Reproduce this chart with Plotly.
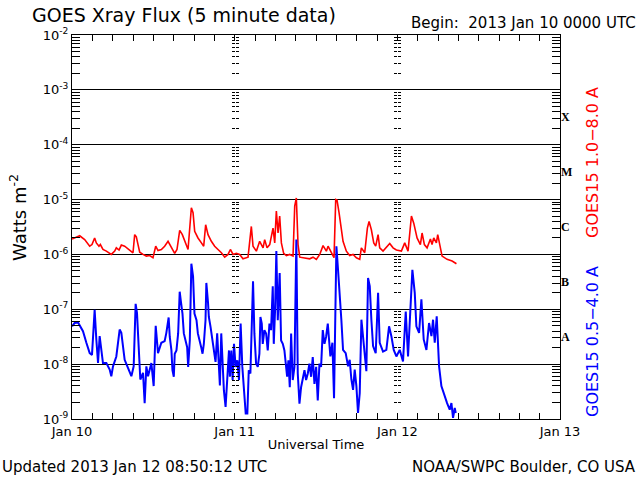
import numpy as np
import pandas as pd
import plotly.graph_objects as go

# ---------------- data (hours since 2013-01-10 00:00 UTC, log10 of W m^-2) -------------
long_hours = [0.00, 0.89, 1.13, 1.87, 2.61, 2.95, 3.34, 3.59, 3.98, 4.18, 4.57, 5.07, 5.80, 6.30,
              6.54, 6.94, 7.28, 7.77, 8.26, 8.66, 9.00, 9.25, 9.49, 9.74, 9.99, 10.48, 10.97, 11.46,
              11.95, 12.35, 12.69, 13.18, 13.67, 14.17, 14.66, 15.15, 15.49, 15.89, 16.28, 16.77,
              17.12, 17.61, 17.86, 18.10, 18.59, 19.09, 19.43, 19.72, 20.07, 20.56, 21.05, 21.54,
              22.04, 22.53, 23.02, 23.37, 23.76, 24.25, 24.74, 25.23, 25.97, 26.46, 26.71, 27.20,
              27.69, 28.19, 28.43, 28.78, 29.17, 29.66, 29.91, 30.15, 30.40, 30.64, 30.89, 31.23,
              31.63, 32.12, 32.61, 32.86, 33.10, 33.35, 33.60,
              35.07, 35.56, 36.05, 36.55, 37.04, 37.53, 37.78, 38.27, 38.66, 38.91, 39.10, 39.40,
              39.74, 39.99, 40.48, 40.97, 41.47, 41.96, 42.45, 42.69, 43.19, 43.58, 43.83, 44.17,
              44.52, 44.81, 45.16, 45.40, 45.89, 46.38, 46.88, 47.37, 47.86, 48.60, 49.09, 49.58,
              50.08, 50.42, 50.91, 51.40, 51.65, 51.99, 52.39, 52.88, 53.12, 53.37, 53.76, 53.96,
              54.26, 54.60, 55.34, 56.08, 56.72]
long_log10 = [-5.72, -5.67, -5.66, -5.73, -5.85, -5.82, -5.70, -5.79, -5.85, -5.82, -5.91, -5.94, -6.00, -5.94,
              -5.88, -5.92, -5.83, -5.85, -5.90, -5.93, -5.97, -5.64, -5.68, -5.82, -5.96, -6.00, -6.03, -6.02,
              -6.06, -5.85, -5.93, -5.91, -5.85, -5.76, -5.88, -5.98, -5.91, -5.56, -5.64, -5.82,
              -5.91, -5.15, -5.24, -5.58, -5.70, -5.79, -5.85, -5.46, -5.64, -5.76, -5.85, -5.91,
              -5.97, -6.05, -6.00, -5.91, -6.00, -5.98, -6.00, -6.08, -6.05, -5.49, -5.85, -5.94,
              -5.76, -5.88, -5.73, -5.88, -5.82, -5.52, -5.79, -5.21, -5.61, -5.30, -5.79, -5.98,
              -6.02, -6.00, -6.03, -5.12, -4.97, -5.82, -6.05,
              -6.08, -6.05, -6.09, -6.00, -5.84, -5.94, -5.85, -5.97, -6.06, -5.00, -5.01, -5.24,
              -5.61, -5.76, -5.94, -6.02, -6.00, -6.06, -6.09, -5.88, -5.97, -5.52, -5.40, -5.55,
              -5.79, -5.85, -5.64, -5.88, -5.94, -5.88, -5.80, -5.88, -5.92, -5.94, -5.79, -5.94,
              -5.30, -5.43, -5.70, -5.82, -5.61, -5.82, -5.88, -5.72, -5.82, -5.70, -5.79, -5.64,
              -5.85, -6.03, -6.09, -6.12, -6.17]

short_hours = [0.00, 0.39, 0.89, 1.13, 1.62, 2.12, 2.61, 2.95, 3.34, 3.59, 3.84, 4.08, 4.33, 4.57, 5.07,
               5.56, 5.80, 6.05, 6.54, 7.03, 7.28, 7.53, 7.77, 8.26, 8.76, 9.10, 9.39, 9.59, 9.89,
               10.08, 10.48, 10.72, 10.97, 11.22, 11.71, 12.05, 12.35, 12.69, 13.18, 13.67, 13.92,
               14.26, 14.42, 14.67, 14.82, 15.02, 15.16, 15.41, 15.66, 15.89, 16.05, 16.30, 16.50,
               16.79, 16.99, 17.14, 17.38, 17.61, 17.86, 18.07, 18.37, 18.57, 18.86, 19.06, 19.26,
               19.45, 19.70, 19.82, 20.07, 20.19, 20.44, 20.68, 20.93, 21.18, 21.42, 21.67, 21.82,
               22.02, 22.22, 22.41, 22.66, 22.91, 23.16, 23.30, 23.50, 23.70, 23.90, 24.14, 24.39,
               24.64, 24.88, 25.13, 25.38, 25.63, 25.87, 26.08, 26.32, 26.52, 26.71, 26.91, 27.16,
               27.41, 27.65, 27.80, 28.00, 28.14, 28.39, 28.64, 28.88, 29.13, 29.37, 29.62, 29.77,
               29.96, 30.15, 30.36, 30.64, 30.85, 31.10, 31.34, 31.59, 31.74, 31.93, 32.13, 32.33,
               32.57, 32.82, 32.97, 33.10, 33.31, 33.56, 33.80, 34.05, 34.30, 34.54, 34.79, 35.03,
               35.28, 35.52, 35.77, 36.02, 36.26, 36.51, 36.75, 37.00, 37.25, 37.49, 37.74,
               38.12, 38.42, 38.66, 38.86, 39.01, 39.25, 39.50, 39.74, 39.99,
               40.38, 40.73, 40.97, 41.22, 41.47, 41.71, 41.96, 42.20, 42.45, 42.70, 42.94, 43.19,
               43.43, 43.68, 43.93, 44.17, 44.42, 44.81, 45.16, 45.40, 45.89, 46.38, 46.78, 47.12,
               47.47, 47.86, 48.35, 48.84, 49.24, 49.58, 49.93, 50.22, 50.57, 50.81, 51.21, 51.55,
               51.89, 52.29, 52.68, 53.03, 53.27, 53.52, 53.81, 54.16, 54.50, 54.99, 55.34, 55.73,
               55.98, 56.22, 56.47, 56.62]
short_log10 = [-7.31, -7.25, -7.24, -7.29, -7.40, -7.61, -7.80, -7.83, -7.01, -7.55, -7.98, -7.49, -7.74, -7.98, -7.98,
               -8.10, -8.22, -8.04, -7.86, -7.37, -7.43, -7.67, -7.92, -8.07, -8.22, -8.04, -6.90, -7.07, -7.80,
               -8.28, -8.16, -8.71, -8.04, -8.22, -7.98, -8.40, -7.30, -7.80, -7.61, -7.58, -7.43,
               -7.15, -7.50, -7.75, -8.11, -8.23, -7.81, -7.75, -7.44, -6.68, -6.84, -7.08, -7.44,
               -7.57, -7.69, -8.05, -7.57, -6.17, -6.40, -7.08, -7.20, -7.44, -7.63, -7.69, -7.81,
               -7.63, -7.20, -6.52, -6.88, -7.14, -7.32, -7.50, -7.69, -7.96, -7.44, -8.05, -8.39,
               -7.44, -8.05, -8.48, -8.78, -8.23, -7.75, -8.23, -7.75, -8.29, -7.63, -8.05, -7.93,
               -8.29, -7.26, -8.05, -8.42, -8.90, -8.90, -8.11, -8.17, -7.44, -6.49, -7.44, -7.99,
               -8.05, -7.81, -7.14, -7.26, -7.63, -7.38, -7.44, -7.75, -7.26, -7.38, -6.58, -7.63,
               -7.02, -5.94, -7.20, -6.34, -7.57, -7.63, -7.75, -8.05, -8.23, -7.93, -8.42, -7.44,
               -8.29, -8.05, -7.14, -5.73, -8.17, -8.72, -8.42, -8.23, -8.11, -8.29, -8.17, -7.99,
               -8.23, -7.87, -8.36, -8.05, -8.66, -7.99, -8.05, -7.38, -7.63, -7.50, -7.26,
               -7.86, -7.61, -8.62, -7.07, -5.85, -6.28, -6.70, -7.19, -7.74,
               -7.80, -8.04, -7.92, -8.28, -8.47, -8.10, -8.40, -8.89, -8.53, -7.19, -7.55, -7.92,
               -8.13, -6.43, -6.58, -7.19, -7.67, -7.80, -6.70, -7.61, -7.77, -7.74, -7.31, -7.49,
               -7.74, -7.86, -7.74, -7.95, -7.04, -7.86, -7.07, -6.28, -6.70, -7.31, -7.43, -6.82,
               -7.55, -7.74, -7.25, -7.49, -7.19, -7.61, -7.13, -8.04, -8.40, -8.59, -8.71, -8.83,
               -8.71, -8.98, -8.80, -8.89]

start = pd.Timestamp("2013-01-10 00:00")
decades = [-9, -8, -7, -6, -5, -4, -3, -2]
decade_labels = ["10<sup>-%d</sup>" % (-d) for d in decades]
class_letters = ["A", "B", "C", "M", "X"]
class_centres = [-7.5, -6.5, -5.5, -4.5, -3.5]
day_ticks = ["2013-01-10", "2013-01-11", "2013-01-12", "2013-01-13"]

long_t = start + pd.to_timedelta(long_hours, unit="h")
short_t = start + pd.to_timedelta(short_hours, unit="h")
long_flux = 10.0 ** np.array(long_log10)
short_flux = 10.0 ** np.array(short_log10)

minor_vals = [m * 10.0 ** d for d in decades[:-1] for m in range(2, 10)]
yrange = [-9, -2]
FONT = "DejaVu Sans"

fig = go.Figure()
fig.add_trace(go.Scatter(x=long_t, y=long_flux, mode="lines",
                         line=dict(color="#ff0000", width=1.6), showlegend=False))
fig.add_trace(go.Scatter(x=short_t, y=short_flux, mode="lines",
                         line=dict(color="#0000ff", width=2), showlegend=False))
# empty traces so that decoration axes are drawn
for ax in ["y2", "y3", "y4", "y5", "y6"]:
    fig.add_trace(go.Scatter(x=[None], y=[None], yaxis=ax, showlegend=False, hoverinfo="skip"))

common_log = dict(type="log", range=yrange, showgrid=False, zeroline=False, fixedrange=True)

fig.update_layout(
    width=640, height=480,
    margin=dict(l=72, r=80, t=35, b=61),
    paper_bgcolor="white", plot_bgcolor="white",
    font=dict(family=FONT, color="black", size=13),
    xaxis=dict(
        type="date", range=[day_ticks[0], day_ticks[-1]],
        tickvals=day_ticks, tickformat="%b %d",
        ticks="inside", ticklen=6, tickcolor="black",
        minor=dict(dtick=3 * 3600000, ticks="inside", ticklen=6, tickcolor="black", showgrid=False),
        showline=True, linecolor="black", linewidth=1, mirror="allticks",
        showgrid=False, zeroline=False,
        tickfont=dict(family=FONT, size=13),
        title=dict(text="Universal Time", font=dict(family=FONT, size=13), standoff=2),
    ),
    yaxis=dict(
        type="log", range=yrange,
        tickvals=[10.0 ** d for d in decades], ticktext=decade_labels,
        ticks="inside", ticklen=8, tickcolor="black",
        minor=dict(tickvals=minor_vals, ticks="inside", ticklen=8, tickcolor="black", showgrid=False),
        showline=True, linecolor="black", linewidth=1, mirror="allticks",
        showgrid=True, gridcolor="black", gridwidth=1, zeroline=False,
        tickfont=dict(family=FONT, size=13),
    ),
    yaxis2=dict(common_log, overlaying="y", side="right", anchor="x",
                tickvals=[10.0 ** c for c in class_centres],
                ticktext=["<b>%s</b>" % s for s in class_letters],
                ticks="", showline=False,
                tickfont=dict(family="Liberation Serif", size=12)),
    yaxis3=dict(common_log, overlaying="y", anchor="free", position=1 / 3, side="left",
                tickvals=minor_vals, ticks="inside", ticklen=3, tickcolor="black",
                showticklabels=False, showline=False),
    yaxis4=dict(common_log, overlaying="y", anchor="free", position=1 / 3, side="left",
                tickvals=minor_vals, ticks="outside", ticklen=3, tickcolor="black",
                showticklabels=False, showline=False),
    yaxis5=dict(common_log, overlaying="y", anchor="free", position=2 / 3, side="left",
                tickvals=minor_vals, ticks="inside", ticklen=3, tickcolor="black",
                showticklabels=False, showline=False),
    yaxis6=dict(common_log, overlaying="y", anchor="free", position=2 / 3, side="left",
                tickvals=minor_vals, ticks="outside", ticklen=3, tickcolor="black",
                showticklabels=False, showline=False),
)

ann = [
    dict(text="GOES Xray Flux (5 minute data)", x=30, y=465, size=19, xanchor="left"),
    dict(text="Begin:  2013 Jan 10 0000 UTC", x=638, y=457, size=15, xanchor="right"),
    dict(text="Updated 2013 Jan 12 08:50:12 UTC", x=0, y=13, size=15, xanchor="left"),
    dict(text="NOAA/SWPC Boulder, CO USA", x=638, y=13, size=15, xanchor="right"),
]
annotations = []
for a in ann:
    annotations.append(dict(text=a["text"], xref="paper", yref="paper",
                            x=(a["x"] - 72) / 488, y=(a["y"] - 61) / 384,
                            xanchor=a["xanchor"], yanchor="middle", showarrow=False,
                            font=dict(family=FONT, size=a["size"], color="black")))
annotations.append(dict(text="Watts m<sup>-2</sup>", xref="paper", yref="paper",
                        x=(18 - 72) / 488, y=(480 - 218 - 61) / 384, textangle=-90,
                        xanchor="center", yanchor="middle", showarrow=False,
                        font=dict(family=FONT, size=18, color="black")))
annotations.append(dict(text="GOES15 1.0\u22128.0 A", xref="paper", yref="paper",
                        x=(592 - 72) / 488, y=(480 - 163 - 61) / 384, textangle=-90,
                        xanchor="center", yanchor="middle", showarrow=False,
                        font=dict(family=FONT, size=16, color="#ff0000")))
annotations.append(dict(text="GOES15 0.5\u22124.0 A", xref="paper", yref="paper",
                        x=(592 - 72) / 488, y=(480 - 342 - 61) / 384, textangle=-90,
                        xanchor="center", yanchor="middle", showarrow=False,
                        font=dict(family=FONT, size=16, color="#0000ff")))
fig.update_layout(annotations=annotations)

fig.write_html("out.html", config={"displayModeBar": False},
               post_script="document.body.style.margin='0px';document.body.style.padding='0px';")
